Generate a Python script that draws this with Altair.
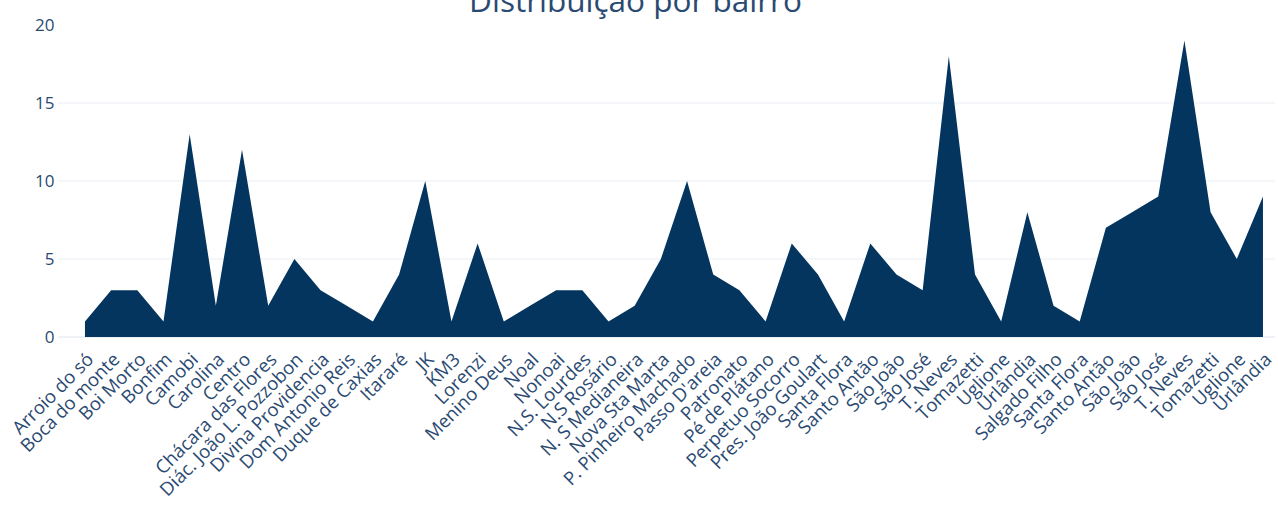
import altair as alt
import pandas as pd

bairros = [
    "Arroio do só", "Boca do monte", "Boi Morto", "Bonfim", "Camobi", "Carolina",
    "Centro", "Chácara das Flores", "Diác. João L. Pozzobon", "Divina Providencia",
    "Dom Antonio Reis", "Duque de Caxias", "Itararé", "JK", "KM3", "Lorenzi",
    "Menino Deus", "Noal", "Nonoai", "N.S. Lourdes", "N.S Rosário", "N. S Medianeira",
    "Nova Sta Marta", "P. Pinheiro Machado", "Passo D'areia", "Patronato",
    "Pé de Plátano", "Perpetuo Socorro", "Pres. João Goulart", "Santa Flora",
    "Santo Antão", "São João", "São José", "T. Neves", "Tomazetti", "Uglione",
    "Urlândia", "Salgado Filho", "Santa Flora", "Santo Antão", "São João",
    "São José", "T. Neves", "Tomazetti", "Uglione", "Urlândia",
]
valores = [
    1, 3, 3, 1, 13, 2,
    12, 2, 5, 3,
    2, 1, 4, 10, 1, 6,
    1, 2, 3, 3, 1, 2,
    5, 10, 4, 3,
    1, 6, 4, 1,
    6, 4, 3, 18, 4, 1,
    8, 2, 1, 7, 8,
    9, 19, 8, 5, 9,
]
y_ticks = [0, 5, 10, 15, 20]
grid_vals = [5, 10, 15]

df = pd.DataFrame({"idx": list(range(len(bairros))), "bairro": bairros, "valor": valores})
grid_df = pd.DataFrame({"g": grid_vals})

label_array = "[" + ",".join("'" + b.replace("'", "\\'") + "'" for b in bairros) + "]"

TEXT = "#2a4a72"
FILL = "#03355f"

x_enc = alt.X(
    "idx:Q",
    scale=alt.Scale(domain=[-1.03, 45.46], nice=False, zero=False),
    axis=alt.Axis(
        values=list(range(len(bairros))),
        labelExpr=label_array + "[datum.value]",
        labelAngle=-45,
        labelAlign="right",
        labelBaseline="middle",
        labelFont="Open Sans",
        labelFontSize=18.5,
        labelColor=TEXT,
        labelPadding=19,
        labelOffset=5,
        labelOverlap=False,
        labelBound=False,
        labelLimit=0,
        ticks=False,
        domain=False,
        grid=False,
        title=None,
    ),
)

y_scale = alt.Scale(domain=[0, 20], nice=False)

area = alt.Chart(df).mark_area(color=FILL, opacity=1, line=False).encode(
    x=x_enc,
    y=alt.Y(
        "valor:Q",
        scale=y_scale,
        axis=alt.Axis(
            values=y_ticks,
            labelFont="Open Sans",
            labelFontSize=17,
            labelColor=TEXT,
            labelPadding=4,
            ticks=False,
            domain=False,
            grid=False,
            title=None,
        ),
    ),
)

grid = alt.Chart(grid_df).mark_rule(color="#e9edf3", strokeWidth=1).encode(
    y=alt.Y("g:Q", scale=y_scale),
)

base = alt.Chart(pd.DataFrame({"z": [0]})).mark_rule(color="#dfe4ec", strokeWidth=1).encode(
    y=alt.Y("z:Q", scale=y_scale),
)

chart = (
    alt.layer(grid, base, area)
    .properties(
        width=1217,
        height=312,
        padding={"left": 58, "top": 25, "right": 3, "bottom": 170},
        autosize=alt.AutoSizeParams(type="none"),
        background="white",
        title=alt.TitleParams(
            "Distribuição por bairro",
            font="Open Sans",
            fontSize=31.5,
            fontWeight="normal",
            color=TEXT,
            anchor="middle",
            dx=-31,
            dy=2,
            offset=0,
        ),
    )
    .configure_view(strokeWidth=0, stroke="transparent")
)

chart.save("out.html", embed_options={"renderer": "svg", "actions": False})
